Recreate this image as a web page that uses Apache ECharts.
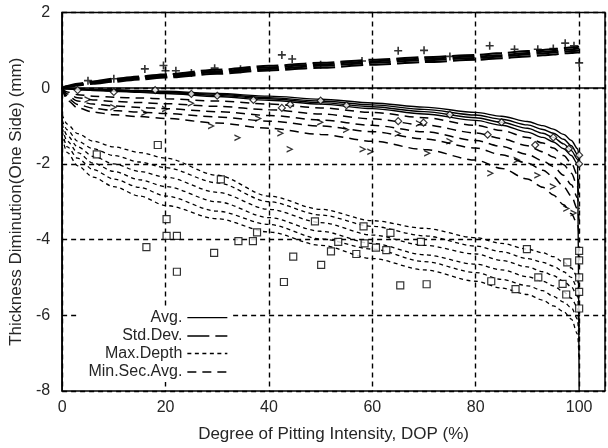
<!DOCTYPE html>
<html>
<head>
<meta charset="utf-8">
<script src="https://cdn.jsdelivr.net/npm/echarts@6/dist/echarts.min.js"></script>
<style>html,body{margin:0;padding:0;background:#fff;}#c{width:608px;height:448px;}</style>
</head>
<body>
<div id="c"></div>
<script>
// ---- data ----
const xs = [0, 1, 3, 6, 10, 15, 20, 30, 40, 50, 60, 70, 80, 85, 90, 93, 95, 97, 98.5, 99.7, 100];

const avg1 = [0, -0.01, -0.02, -0.03, -0.04, -0.06, -0.08, -0.14, -0.21, -0.29, -0.39, -0.5, -0.64, -0.74, -0.88, -0.99, -1.08, -1.22, -1.38, -1.6, -1.85];
const avg2 = [0, -0.01, -0.02, -0.04, -0.05, -0.07, -0.1, -0.16, -0.25, -0.34, -0.44, -0.56, -0.71, -0.82, -0.97, -1.09, -1.19, -1.35, -1.52, -1.75, -1.98];
const avg3 = [0, -0.01, -0.03, -0.05, -0.07, -0.09, -0.12, -0.19, -0.28, -0.38, -0.49, -0.62, -0.78, -0.9, -1.06, -1.19, -1.3, -1.47, -1.65, -1.88, -2.1];
const avg4 = [0, -0.02, -0.04, -0.06, -0.08, -0.11, -0.14, -0.22, -0.32, -0.42, -0.54, -0.68, -0.85, -0.98, -1.16, -1.3, -1.42, -1.6, -1.78, -2.0, -8.0];

const std1 = [0, 0.03, 0.07, 0.12, 0.17, 0.23, 0.28, 0.38, 0.47, 0.54, 0.62, 0.69, 0.75, 0.79, 0.84, 0.87, 0.89, 0.92, 0.93, 0.94, 0.94];
const std2 = [0, 0.04, 0.09, 0.14, 0.2, 0.26, 0.31, 0.42, 0.51, 0.59, 0.67, 0.74, 0.8, 0.84, 0.89, 0.92, 0.94, 0.97, 0.98, 0.99, 1.0];
const std3 = [0, 0.05, 0.1, 0.16, 0.22, 0.28, 0.34, 0.45, 0.55, 0.63, 0.71, 0.78, 0.84, 0.88, 0.93, 0.96, 0.98, 1.01, 1.03, 1.04, 1.05];
const std4 = [0, 0.06, 0.12, 0.18, 0.25, 0.31, 0.37, 0.49, 0.59, 0.67, 0.75, 0.82, 0.88, 0.93, 0.98, 1.01, 1.03, 1.06, 1.08, 1.09, 1.1];

const maxD1 = [-0.7, -0.95, -1.2, -1.4, -1.55, -1.7, -1.85, -2.3, -2.85, -3.2, -3.5, -3.7, -3.95, -4.1, -4.25, -4.35, -4.45, -4.6, -4.75, -5.0, -5.8];
const maxD2 = [-0.85, -1.1, -1.4, -1.6, -1.78, -1.95, -2.1, -2.5, -3.0, -3.35, -3.65, -3.9, -4.17, -4.32, -4.5, -4.6, -4.7, -4.85, -5.0, -5.3, -6.0];
const maxD3 = [-0.95, -1.25, -1.55, -1.8, -2.0, -2.2, -2.35, -2.75, -3.2, -3.55, -3.88, -4.15, -4.38, -4.55, -4.72, -4.85, -4.95, -5.1, -5.25, -5.5, -6.3];
const maxD4 = [-1.05, -1.4, -1.7, -1.98, -2.2, -2.42, -2.6, -3.0, -3.42, -3.78, -4.1, -4.4, -4.65, -4.8, -4.98, -5.1, -5.22, -5.38, -5.55, -5.8, -6.6];
const maxD5 = [-1.15, -1.55, -1.85, -2.15, -2.4, -2.62, -2.85, -3.25, -3.6, -3.98, -4.25, -4.58, -4.87, -5.05, -5.22, -5.35, -5.5, -5.65, -5.8, -6.1, -6.9];
const maxD6 = [-1.3, -1.7, -2.05, -2.35, -2.6, -2.85, -3.1, -3.45, -3.8, -4.15, -4.5, -4.8, -5.1, -5.28, -5.45, -5.6, -5.75, -5.9, -6.1, -6.5, -7.2];

const minS1 = [0, -0.1, -0.17, -0.21, -0.24, -0.26, -0.28, -0.34, -0.42, -0.52, -0.64, -0.78, -0.98, -1.12, -1.3, -1.45, -1.58, -1.78, -1.98, -2.3, -2.6];
const minS2 = [0, -0.15, -0.25, -0.31, -0.35, -0.38, -0.41, -0.48, -0.57, -0.68, -0.81, -0.97, -1.18, -1.33, -1.52, -1.68, -1.82, -2.02, -2.25, -2.6, -2.9];
const minS3 = [0, -0.2, -0.34, -0.42, -0.47, -0.51, -0.54, -0.62, -0.72, -0.84, -0.98, -1.15, -1.38, -1.54, -1.75, -1.92, -2.07, -2.3, -2.55, -2.9, -3.2];
const minS4 = [0, -0.26, -0.43, -0.53, -0.59, -0.63, -0.67, -0.76, -0.87, -1.0, -1.15, -1.34, -1.58, -1.76, -1.98, -2.17, -2.34, -2.6, -2.85, -3.2, -3.5];
const minS5 = [0, -0.32, -0.52, -0.63, -0.7, -0.75, -0.8, -0.92, -1.06, -1.22, -1.4, -1.62, -1.9, -2.12, -2.4, -2.62, -2.82, -3.08, -3.32, -3.6, -3.9];

const stdPoints = [[5,0.2],[10,0.25],[16,0.51],[19.6,0.6],[20,0.46],[22,0.46],[25,0.4],[29.5,0.53],[34.5,0.5],[42.5,0.88],[44.5,0.77],[50,0.62],[58,0.72],[65,0.99],[70,1.0],[75,0.84],[82.7,1.12],[87.5,1.03],[92,1.03],[95,1.05],[97.3,1.19],[99,1.12],[100,0.67]];
const avgPoints = [[3,-0.05],[10,-0.1],[18,-0.05],[25,-0.15],[30,-0.2],[37,-0.31],[42.5,-0.52],[44.1,-0.43],[50,-0.33],[55,-0.45],[65,-0.87],[69.9,-0.91],[75,-0.7],[82.3,-1.23],[85,-0.9],[91.5,-1.5],[95,-1.3],[98,-1.6],[100,-1.77],[100,-2.0]];
const minSecPoints = [[5,-0.3],[10,-0.5],[16,-0.65],[20,-0.55],[25,-0.4],[28.9,-1.0],[34,-1.31],[38,-0.8],[42.3,-1.19],[44.1,-1.61],[50,-0.9],[55,-1.1],[58.2,-1.61],[59.7,-1.68],[65,-1.2],[69.1,-0.93],[70.7,-1.72],[75,-1.4],[82.9,-2.25],[88,-1.9],[92,-2.3],[95,-2.6],[97.6,-3.18],[99,-3.3]];
const maxDepthPoints = [[6.7,-1.75],[16.3,-4.2],[18.5,-1.5],[20.2,-3.46],[20.2,-3.9],[22.2,-3.9],[22.2,-4.85],[29.4,-4.35],[30.7,-2.41],[34.1,-4.04],[36.9,-4.04],[37.7,-3.81],[42.9,-5.12],[44.7,-4.45],[48.9,-3.52],[50.1,-4.67],[52,-4.31],[53.4,-4.06],[56.9,-4.38],[58.3,-3.65],[58.5,-4.1],[60.7,-4.21],[62.7,-4.28],[63.5,-3.82],[65.4,-5.21],[69.4,-4.06],[70.5,-5.18],[83,-5.1],[87.7,-5.31],[89.9,-4.25],[92.1,-5.0],[96.8,-5.17],[97.5,-5.45],[97.7,-4.6],[100,-4.3],[100,-4.55],[100,-5.0],[100,-5.38],[100,-5.82]];

const xTicks = [0, 20, 40, 60, 80, 100];
const yTicks = [2, 0, -2, -4, -6, -8];
const legendNames = ['Avg.', 'Std.Dev.', 'Max.Depth', 'Min.Sec.Avg.'];

// ---- chart ----
const FONT = 'Liberation Sans, Arial, sans-serif';
const TXT = '#262626';
const zip = ys => xs.map((x, i) => [x, ys[i]]);

function lineSeries(name, ys, type, width) {
  return {
    name: name, type: 'line', data: zip(ys), symbol: 'none',
    smooth: 0.3, smoothMonotone: 'x',
    lineStyle: { color: '#000', width: width, type: type },
    itemStyle: { color: '#000' },
    z: 3, silent: true, animation: false
  };
}
function pointSeries(name, pts, symbol, size, filled) {
  return {
    name: name, type: 'scatter', data: pts, symbol: symbol, symbolSize: size,
    itemStyle: filled ? { color: '#000' } : { color: '#fff', borderColor: '#000', borderWidth: 1.2 },
    z: 4, silent: true, animation: false
  };
}

const series = [];
[avg1, avg2, avg3, avg4].forEach(a => series.push(lineSeries('Avg.', a, 'solid', 1.4)));
[std1, std2, std3, std4].forEach(a => series.push(lineSeries('Std.Dev.', a, [22, 6], 2)));
[maxD1, maxD2, maxD3, maxD4, maxD5, maxD6].forEach(a => series.push(lineSeries('Max.Depth', a, [4, 3.5], 1.3)));
[minS1, minS2, minS3, minS4, minS5].forEach(a => series.push(lineSeries('Min.Sec.Avg.', a, [9, 6], 1.5)));
series.push(pointSeries('stdPts', stdPoints, 'path://M4,0H6V4H10V6H6V10H4V6H0V4H4Z', 8, true));
series.push(pointSeries('avgPts', avgPoints, 'diamond', 7, false));
series.push(pointSeries('minPts', minSecPoints, 'path://M0,0L10,5L0,10L0,7.6L6.2,5L0,2.4Z', 7, true));
series.push(pointSeries('maxPts', maxDepthPoints, 'rect', 7, false));

const legendRowCenters = [316.7, 335, 352.5, 371];
const legends = legendNames.map((n, i) => ({
  data: [n], orient: 'horizontal', align: 'right',
  right: 380, top: legendRowCenters[i] - 7, padding: 0,
  itemWidth: 40, itemHeight: 14, selectedMode: false,
  itemStyle: { color: 'rgba(0,0,0,0)', borderColor: 'rgba(0,0,0,0)', borderWidth: 0, opacity: 0 },
  lineStyle: { width: 1.3 },
  textStyle: { fontFamily: FONT, fontSize: 16, color: TXT }
}));

const chart = echarts.init(document.getElementById('c'), null, { renderer: 'canvas' });
chart.setOption({
  animation: false,
  backgroundColor: '#fff',
  grid: { left: 60, right: 2, top: 12.5, bottom: 56.3, show: true, borderColor: '#000', borderWidth: 1.5, backgroundColor: 'transparent' },
  legend: legends,
  graphic: [{ type: 'rect', shape: { x: 80, y: 306, width: 153, height: 76 }, style: { fill: '#fff' }, z: 1 }],
  xAxis: {
    type: 'value', min: 0, max: 105, interval: 20,
    name: 'Degree of Pitting Intensity, DOP (%)', nameLocation: 'middle', nameGap: 35,
    nameTextStyle: { fontFamily: FONT, fontSize: 17, color: TXT },
    axisLine: { show: true, lineStyle: { color: '#000', width: 1.5 } },
    axisTick: { show: false },
    axisLabel: { fontFamily: FONT, fontSize: 16, color: TXT, margin: 9,
      formatter: v => xTicks.indexOf(v) >= 0 ? String(v) : '' },
    splitLine: { show: true, lineStyle: { color: '#000', width: 1.4, type: [5, 4] } }
  },
  yAxis: {
    type: 'value', min: -8, max: 2, interval: 2,
    name: 'Thickness Diminution(One Side) (mm)', nameLocation: 'middle', nameGap: 36,
    nameTextStyle: { fontFamily: FONT, fontSize: 17, color: TXT },
    axisLine: { show: true, lineStyle: { color: '#000', width: 1.5 } },
    axisTick: { show: false },
    axisLabel: { fontFamily: FONT, fontSize: 16, color: TXT, margin: 12,
      formatter: v => yTicks.indexOf(v) >= 0 ? String(v) : '' },
    splitLine: { show: true, lineStyle: { color: '#000', width: 1.4, type: [5, 4] } }
  },
  series: series
});
</script>
</body>
</html>
